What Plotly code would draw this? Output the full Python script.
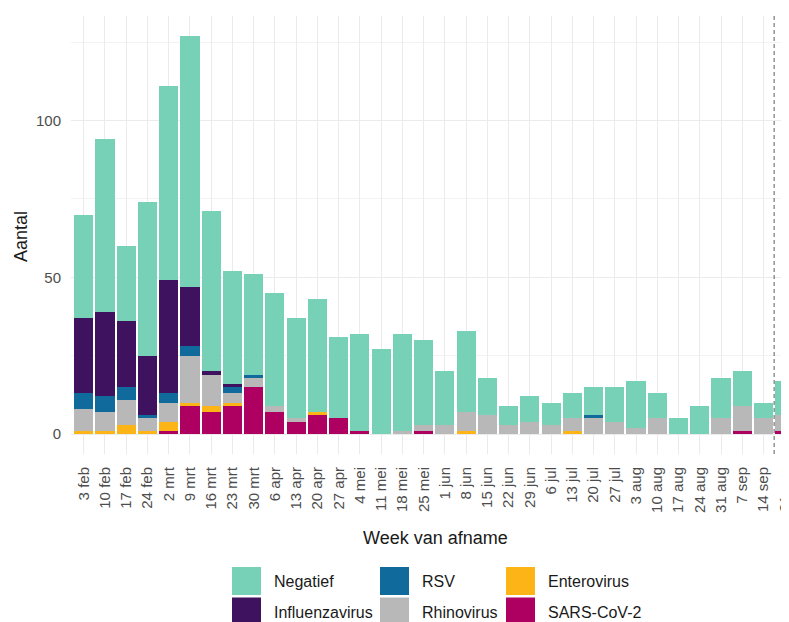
import plotly.graph_objects as go

# Weken van afname
weeks = ["3 feb", "10 feb", "17 feb", "24 feb", "2 mrt", "9 mrt", "16 mrt", "23 mrt",
         "30 mrt", "6 apr", "13 apr", "20 apr", "27 apr", "4 mei", "11 mei", "18 mei",
         "25 mei", "1 jun", "8 jun", "15 jun", "22 jun", "29 jun", "6 jul", "13 jul",
         "20 jul", "27 jul", "3 aug", "10 aug", "17 aug", "24 aug", "31 aug", "7 sep",
         "14 sep", "21 sep"]

# Aantallen per uitslag (van onder naar boven gestapeld)
sars_cov_2 = [0, 0, 0, 0, 1, 9, 7, 9, 15, 7, 4, 6, 5, 1, 0, 0, 1, 0, 0, 0, 0, 0, 0, 0,
              0, 0, 0, 0, 0, 0, 0, 1, 0, 1]
enterovirus = [1, 1, 3, 1, 3, 1, 2, 1, 0, 0, 0, 1, 0, 0, 0, 0, 0, 0, 1, 0, 0, 0, 0, 1,
               0, 0, 0, 0, 0, 0, 0, 0, 0, 0]
rhinovirus = [7, 6, 8, 4, 6, 15, 10, 3, 3, 2, 1, 0, 0, 0, 0, 1, 2, 3, 6, 6, 3, 4, 3, 4,
              5, 4, 2, 5, 0, 0, 5, 8, 5, 5]
rsv = [5, 5, 4, 1, 3, 3, 0, 2, 1, 0, 0, 0, 0, 0, 0, 0, 0, 0, 0, 0, 0, 0, 0, 0,
       1, 0, 0, 0, 0, 0, 0, 0, 0, 0]
influenzavirus = [24, 27, 21, 19, 36, 19, 1, 1, 0, 0, 0, 0, 0, 0, 0, 0, 0, 0, 0, 0, 0, 0, 0, 0,
                  0, 0, 0, 0, 0, 0, 0, 0, 0, 0]
negatief = [33, 55, 24, 49, 62, 80, 51, 36, 32, 36, 32, 36, 26, 31, 27, 31, 27, 17, 26, 12,
            6, 8, 7, 8, 9, 11, 15, 8, 5, 9, 13, 11, 5, 11]

cutoff_week = "14 sep"

series = [
    ("SARS-CoV-2", sars_cov_2, "#ae0060"),
    ("Enterovirus", enterovirus, "#fcb416"),
    ("Rhinovirus", rhinovirus, "#b8b8b8"),
    ("RSV", rsv, "#106a9b"),
    ("Influenzavirus", influenzavirus, "#3e125f"),
    ("Negatief", negatief, "#77d1b7"),
]
colors = {name: col for name, _, col in series}

FONT = "Liberation Sans, Arial, sans-serif"

fig = go.Figure()
for name, vals, col in series:
    fig.add_trace(go.Bar(x=weeks, y=vals, name=name, marker_color=col,
                         marker_line_width=0, showlegend=False))

# the page body has an 8px margin, so figure pixel = window pixel - 8
OFF = 8
# plot area in window pixels: left 71, right 789, top 16, bottom 454
L, R, T, B = 71 - OFF, 789 - OFF, 16 - OFF, 454 - OFF


def px_x(p):
    return (p - OFF - L) / (R - L)


def px_y(p):
    return (B - (p - OFF)) / (B - T)


fig.update_layout(
    template="none",
    width=789, height=622,
    margin=dict(l=L, r=789 - R, t=T, b=622 - B, pad=0),
    barmode="stack", bargap=0.1,
    plot_bgcolor="white", paper_bgcolor="white",
    font=dict(family=FONT, color="#1a1a1a"),
)

fig.update_xaxes(
    range=[-0.6, 33.2], automargin=False,
    showgrid=True, gridcolor="#ebebeb", gridwidth=1,
    showline=False, zeroline=False,
    tickangle=-90, ticks="outside", ticklen=6, tickcolor="rgba(0,0,0,0)",
    ticklabeloverflow="allow",
    tickfont=dict(size=15, color="#4d4d4d", family=FONT),
)
fig.update_yaxes(
    range=[-6.35, 133.35], automargin=False,
    tick0=0, dtick=50,
    showgrid=True, gridcolor="#ebebeb", gridwidth=1,
    minor=dict(dtick=25, tick0=0, showgrid=True, gridcolor="#f3f3f3", gridwidth=1),
    showline=False, zeroline=False,
    ticks="outside", ticklen=6, tickcolor="rgba(0,0,0,0)",
    tickfont=dict(size=15, color="#4d4d4d", family=FONT),
)

# dashed line after the cut-off week
cut_x = weeks.index(cutoff_week) + 0.5
fig.add_shape(type="line", xref="x", yref="paper", x0=cut_x, x1=cut_x, y0=0, y1=1,
              line=dict(color="#333333", width=0.8, dash="4px,3px"))

annotations = [
    dict(text="Aantal", xref="paper", yref="paper", x=px_x(21), y=px_y(237),
         textangle=-90, showarrow=False, font=dict(size=18, color="#1a1a1a"),
         xanchor="center", yanchor="middle"),
    dict(text="Week van afname", xref="paper", yref="paper", x=px_x(435), y=px_y(538),
         showarrow=False, font=dict(size=18, color="#1a1a1a"),
         xanchor="center", yanchor="middle"),
]

# legend, 3 columns x 2 rows, filled by column
legend_order = ["Negatief", "Influenzavirus", "RSV", "Rhinovirus", "Enterovirus", "SARS-CoV-2"]
col_left = [232, 380, 506]
row_top = [567, 597.5]
for k, name in enumerate(legend_order):
    cx = col_left[k // 2]
    ry = row_top[k % 2]
    fig.add_shape(type="rect", xref="paper", yref="paper",
                  x0=px_x(cx), x1=px_x(cx + 29), y0=px_y(ry + 28), y1=px_y(ry),
                  fillcolor=colors[name], line_width=0)
    annotations.append(dict(text=name, xref="paper", yref="paper",
                            x=px_x(cx + 40), y=px_y(ry + 14.5), showarrow=False,
                            xanchor="left", yanchor="middle",
                            font=dict(size=16, color="#1a1a1a")))

fig.update_layout(annotations=annotations)

fig.write_html("out.html")
